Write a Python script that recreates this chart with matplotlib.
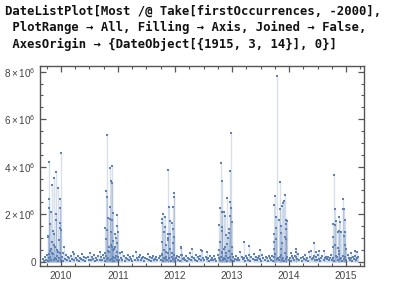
import matplotlib
matplotlib.use("Agg")
import matplotlib.pyplot as plt
from matplotlib.ticker import MultipleLocator, FixedLocator
import numpy as np

plt.rcParams['mathtext.fontset'] = 'custom'
plt.rcParams['mathtext.rm'] = 'Liberation Sans'
plt.rcParams['mathtext.it'] = 'Liberation Sans'

# ---- data (decimal years, values in millions) ----
peak_years = [
    # autumn 2009
    2009.789, 2010.000, 2009.907, 2009.872, 2009.837, 2009.942, 2009.789, 2009.789,
    2009.825, 2009.977, 2009.977, 2009.907, 2009.907, 2009.802, 2009.988, 2009.977,
    2010.000, 2009.777, 2009.767, 2009.882, 2009.872, 2009.837, 2010.058, 2009.825,
    2009.810, 2009.850, 2009.930, 2009.960, 2009.860, 2009.950, 2009.790, 2009.750,
    2010.030, 2009.890,
    # autumn 2010
    2010.802, 2010.854, 2010.889, 2010.872, 2010.889, 2010.789, 2010.802, 2010.854,
    2010.907, 2010.977, 2010.819, 2010.854, 2010.889, 2010.767, 2010.802, 2010.977,
    2010.995, 2010.872, 2010.942, 2010.789, 2010.960, 2010.977, 2010.837, 2010.889,
    2010.942, 2010.907, 2011.065, 2010.820, 2010.870, 2010.930, 2010.780, 2010.980,
    2010.910,
    # autumn 2011
    2011.872, 2011.977, 2011.977, 2011.889, 2011.960, 2011.789, 2011.819, 2011.767,
    2011.767, 2011.907, 2011.942, 2011.819, 2011.960, 2011.802, 2011.872, 2011.907,
    2011.977, 2011.872, 2011.767, 2011.837, 2011.960, 2012.100, 2011.802, 2012.118,
    2011.850, 2011.920, 2011.880, 2011.950, 2011.780,
    # autumn 2012
    2012.977, 2012.802, 2012.819, 2012.960, 2012.907, 2012.960, 2012.977, 2012.784,
    2012.819, 2012.854, 2012.872, 2012.960, 2012.995, 2012.767, 2012.819, 2012.819,
    2012.942, 2012.942, 2012.889, 2012.784, 2012.925, 2012.872, 2012.907, 2012.995,
    2012.767, 2012.830, 2012.860, 2012.940, 2012.900,
    # autumn 2013
    2013.789, 2013.837, 2013.749, 2013.732, 2013.925, 2013.907, 2013.889, 2013.872,
    2013.767, 2013.837, 2013.942, 2013.960, 2013.819, 2013.942, 2013.854, 2013.767,
    2013.732, 2013.854, 2013.942, 2013.925, 2013.767, 2013.732, 2013.872, 2013.942,
    2013.854, 2013.732,
    # autumn 2014
    2014.784, 2014.942, 2014.960, 2014.942, 2014.802, 2014.872, 2014.819, 2014.767,
    2014.977, 2014.802, 2014.889, 2014.854, 2014.872, 2014.907, 2014.977, 2014.960,
    2014.767, 2014.802, 2014.854, 2014.977, 2014.995, 2014.767, 2014.872,
]
peak_values = [
    4.21, 4.59, 3.78, 3.52, 3.23, 3.10, 2.64, 2.27,
    2.10, 2.65, 2.27, 2.00, 1.76, 1.60, 1.64, 1.40,
    1.33, 1.07, 1.05, 1.17, 0.72, 0.84, 0.60, 0.53,
    0.45, 0.38, 0.50, 0.90, 1.30, 0.42, 0.32, 0.30,
    0.35, 0.62,
    5.35, 3.96, 4.03, 3.40, 3.33, 2.99, 2.74, 2.32,
    2.06, 1.98, 1.85, 1.81, 1.76, 1.40, 1.33, 1.50,
    1.26, 1.26, 1.17, 0.94, 0.98, 0.80, 0.63, 0.63,
    0.63, 0.49, 0.42, 0.45, 0.72, 0.55, 0.35, 0.40,
    0.85,
    3.86, 2.90, 2.74, 2.32, 2.32, 2.00, 1.90, 1.81,
    1.64, 1.73, 1.64, 1.47, 1.36, 1.24, 1.17, 1.17,
    1.05, 0.98, 0.84, 0.70, 0.80, 0.60, 0.49, 0.28,
    0.42, 0.55, 0.90, 0.38, 0.30,
    5.43, 4.14, 3.41, 3.83, 2.69, 2.53, 2.27, 2.27,
    2.10, 2.10, 1.94, 1.94, 1.68, 1.56, 1.47, 1.30,
    1.39, 1.22, 1.14, 0.84, 0.98, 0.63, 0.75, 0.60,
    0.49, 0.40, 0.55, 0.45, 0.35,
    7.83, 3.36, 2.77, 2.40, 2.82, 2.56, 2.48, 2.35,
    1.90, 2.20, 1.76, 1.71, 1.76, 1.58, 1.50, 1.40,
    1.15, 1.22, 1.36, 1.05, 0.94, 0.83, 0.80, 0.94,
    0.55, 0.55,
    3.64, 2.65, 2.23, 2.23, 2.20, 1.90, 1.71, 1.59,
    1.76, 1.55, 1.68, 1.25, 1.30, 1.25, 1.25, 1.08,
    1.05, 0.72, 0.59, 0.72, 0.55, 0.63, 0.45,
]

# scattered off-season points (decimal years, millions)
offseason_years = [2010.23, 2010.68, 2012.10, 2012.30, 2012.46, 2012.57,
                   2013.21, 2013.30, 2013.49, 2014.032, 2014.12, 2014.12,
                   2014.433, 2014.38, 2014.52, 2014.61, 2014.47,
                   2015.153, 2015.188, 2015.083]
offseason_values = [0.32, 0.42, 0.59, 0.53, 0.48, 0.41,
                    0.84, 0.66, 0.48, 0.38, 0.52, 0.42,
                    0.80, 0.45, 0.45, 0.45, 0.42,
                    0.45, 0.42, 0.35]

# weekly background level (units of 1.5x10^4), starting 2009.68
baseline_start = 2009.68
baseline_unit = 1.5e4
baseline_values = [
    8, 3, 12, 5, 18, 2, 9, 14, 6, 22, 4, 11, 7, 16, 3, 10, 25, 6, 13, 2, 8, 19, 5, 12, 9, 3,
    15, 7, 28, 4, 10, 6, 17, 2, 11, 8, 21, 5, 13, 3, 9, 14, 6, 24, 4, 12, 7, 18, 3, 10, 5, 16,
    6, 13, 4, 20, 9, 2, 15, 7, 11, 26, 5, 8, 14, 3, 10, 17, 6, 12, 4, 23, 9, 5, 16, 2, 11, 7,
    19, 4, 13, 8, 3, 15, 6, 27, 10, 5, 12, 18, 4, 9, 14, 2, 11, 7, 22, 6, 13, 3, 10, 16, 5, 8,
    12, 4, 9, 17, 6, 21, 3, 11, 8, 14, 5, 25, 10, 2, 13, 7, 18, 4, 9, 15, 6, 12, 3, 20, 8, 11,
    5, 16, 2, 10, 7, 23, 4, 13, 9, 6, 18, 3, 12, 8, 15, 5, 29, 10, 4, 14, 7, 11, 2, 17, 6, 9,
    5, 15, 8, 3, 19, 10, 6, 13, 24, 4, 11, 7, 16, 2, 9, 14, 5, 21, 12, 3, 8, 17, 6, 10, 4, 26,
    13, 7, 11, 2, 15, 9, 5, 18, 3, 12, 8, 22, 6, 14, 4, 10, 16, 7, 3, 20, 11, 5, 13, 9, 2, 15,
    10, 6, 16, 3, 12, 22, 7, 9, 4, 14, 18, 5, 11, 2, 25, 8, 13, 6, 10, 3, 17, 9, 4, 15, 12, 7,
    21, 5, 11, 2, 14, 8, 19, 6, 10, 3, 28, 13, 7, 9, 16, 4, 12, 5, 20, 8, 3, 11, 15, 6, 9, 13,
    7, 14, 4, 11, 19, 6, 9, 3, 16, 12, 5, 22, 8, 10, 2, 15, 7, 13, 4, 18, 9, 6, 11, 3, 14, 8,
    17, 5, 10, 12,
]

year_ticks = [2010, 2011, 2012, 2013, 2014, 2015]
y_ticks = [0, 2e6, 4e6, 6e6, 8e6]
y_labels = ['0', r'$2\times10^{6}$', r'$4\times10^{6}$', r'$6\times10^{6}$', r'$8\times10^{6}$']

title_lines = [
    "DateListPlot[Most /@ Take[firstOccurrences, -2000],",
    " PlotRange \u2192 All, Filling \u2192 Axis, Joined \u2192 False,",
    " AxesOrigin \u2192 {DateObject[{1915, 3, 14}], 0}]",
]

# ---- assemble ----
base_x = baseline_start + np.arange(len(baseline_values)) * 7 / 365.25
base_y = np.array(baseline_values) * baseline_unit
x = np.concatenate([base_x, np.array(offseason_years), np.array(peak_years)])
y = np.concatenate([base_y, np.array(offseason_values) * 1e6, np.array(peak_values) * 1e6])

W, H = 405, 283
fig = plt.figure(figsize=(W / 100, H / 100), dpi=100)
ax = fig.add_axes([40 / W, 1 - 265.7 / H, 323.7 / W, (265.7 - 66) / H])

pcol = '#5e81b5'
ax.vlines(x, 0, y, color=pcol, alpha=0.24, lw=1.0, zorder=1)
ax.plot(x, y, 's', color=pcol, ms=2.0, mew=0, zorder=2)

ax.set_xlim(2009.632, 2015.31)
ax.set_ylim(-0.17e6, 8.24e6)

ax.xaxis.set_major_locator(FixedLocator(year_ticks))
ax.set_xticklabels([str(t) for t in year_ticks])
ax.xaxis.set_minor_locator(MultipleLocator(0.25))
ax.yaxis.set_major_locator(FixedLocator(y_ticks))
ax.set_yticklabels(y_labels)
ax.yaxis.set_minor_locator(MultipleLocator(0.5e6))

fcol = '#555555'
for s in ax.spines.values():
    s.set_color(fcol)
    s.set_linewidth(1.0)
ax.tick_params(which='both', direction='in', top=True, right=True, color=fcol,
               labelcolor='#444444', labelsize=7.2)
ax.tick_params(which='major', length=4, width=0.9)
ax.tick_params(which='minor', length=2, width=0.8)
ax.tick_params(axis='x', pad=4)
ax.tick_params(axis='y', pad=3)
for lab in ax.get_xticklabels() + ax.get_yticklabels():
    lab.set_fontfamily('Liberation Sans')

ys = [11, 27.5, 44]
for line, yy in zip(title_lines, ys):
    fig.text(5 / W, 1 - yy / H, line, family='DejaVu Sans Mono', weight='bold',
             fontsize=8.8, va='center', ha='left', color='#111111')

fig.savefig('out.png', dpi=100)
